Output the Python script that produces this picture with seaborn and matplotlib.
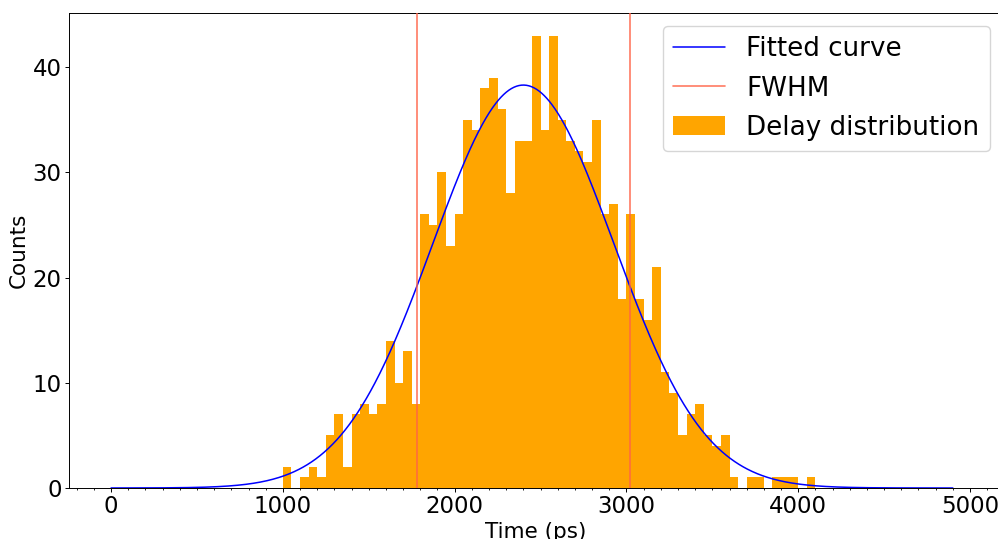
import numpy as np
import pandas as pd
import matplotlib
matplotlib.use("Agg")
import matplotlib.pyplot as plt
from matplotlib.ticker import MultipleLocator
import seaborn as sns

# Histogram of measured delays: 50 ps bins starting at 1000 ps
bin_start = 1000
bin_width = 50
counts = [2, 0, 1, 2, 1, 5, 7, 2, 7, 8, 7, 8, 14, 10, 13, 8,
          26, 25, 30, 23, 26, 35, 34, 38, 39, 36,
          28, 33, 33, 43, 34, 43, 35, 33, 32, 31,
          35, 26, 27, 18, 26, 18, 16, 21, 11, 9,
          5, 7, 8, 5, 4, 5, 1, 0, 1, 1, 0, 1, 1, 1, 0, 1]

# Gaussian fit parameters
fit_amplitude = 38.3
fit_mean = 2400.0
fit_sigma = 527.0
fit_range = (0, 4900)

sns.set_style("ticks")
plt.rcParams.update({
    "font.family": ["DejaVu Sans"],
    "text.color": "black",
    "axes.labelcolor": "black",
    "axes.edgecolor": "black",
    "xtick.color": "black",
    "ytick.color": "black",
})

n_bins = len(counts)
bin_end = bin_start + bin_width * n_bins
hist_df = pd.DataFrame({
    "delay": bin_start + bin_width * (np.arange(n_bins) + 0.5),
    "n": counts,
})

t = np.linspace(fit_range[0], fit_range[1], 1000)
fit_df = pd.DataFrame({
    "t": t,
    "y": fit_amplitude * np.exp(-0.5 * ((t - fit_mean) / fit_sigma) ** 2),
})
half_width = fit_sigma * np.sqrt(2 * np.log(2))

fig = plt.figure(figsize=(9.98, 5.39), dpi=100)
# the axes runs slightly past the right edge of the canvas
ax = fig.add_axes([69 / 998, 51 / 539, 934 / 998, 475 / 539])

sns.lineplot(data=fit_df, x="t", y="y", ax=ax, color="blue", linewidth=1.1,
             label="Fitted curve", zorder=3)
ax.axvline(fit_mean - half_width, color="tomato", alpha=0.85, linewidth=1.2,
           label="FWHM", zorder=3)
ax.axvline(fit_mean + half_width, color="tomato", alpha=0.85, linewidth=1.2,
           zorder=3)
sns.histplot(data=hist_df, x="delay", weights="n", binwidth=bin_width,
             binrange=(bin_start, bin_end), ax=ax,
             color="orange", alpha=1.0, linewidth=0, edgecolor="none",
             label="Delay distribution", zorder=2)

ax.set_xlim(-245, 5192)
ax.set_ylim(0, 45.15)
ax.xaxis.set_major_locator(MultipleLocator(1000))
ax.xaxis.set_minor_locator(MultipleLocator(100))
ax.yaxis.set_major_locator(MultipleLocator(10))
ax.tick_params(axis="both", which="major", labelsize=16.5, length=2.6,
               width=0.7, pad=2.6)
ax.tick_params(axis="x", which="minor", length=1.5, width=0.6)
for s in ax.spines.values():
    s.set_visible(True)
    s.set_linewidth(0.7)

ax.set_xlabel("Time (ps)", fontsize=15.5, labelpad=3)
ax.set_ylabel("Counts", fontsize=15.5, labelpad=3)

ax.legend(loc="upper right", fontsize=18.8, borderaxespad=0.5,
          framealpha=0.8)

fig.savefig("out.png", dpi=100)
